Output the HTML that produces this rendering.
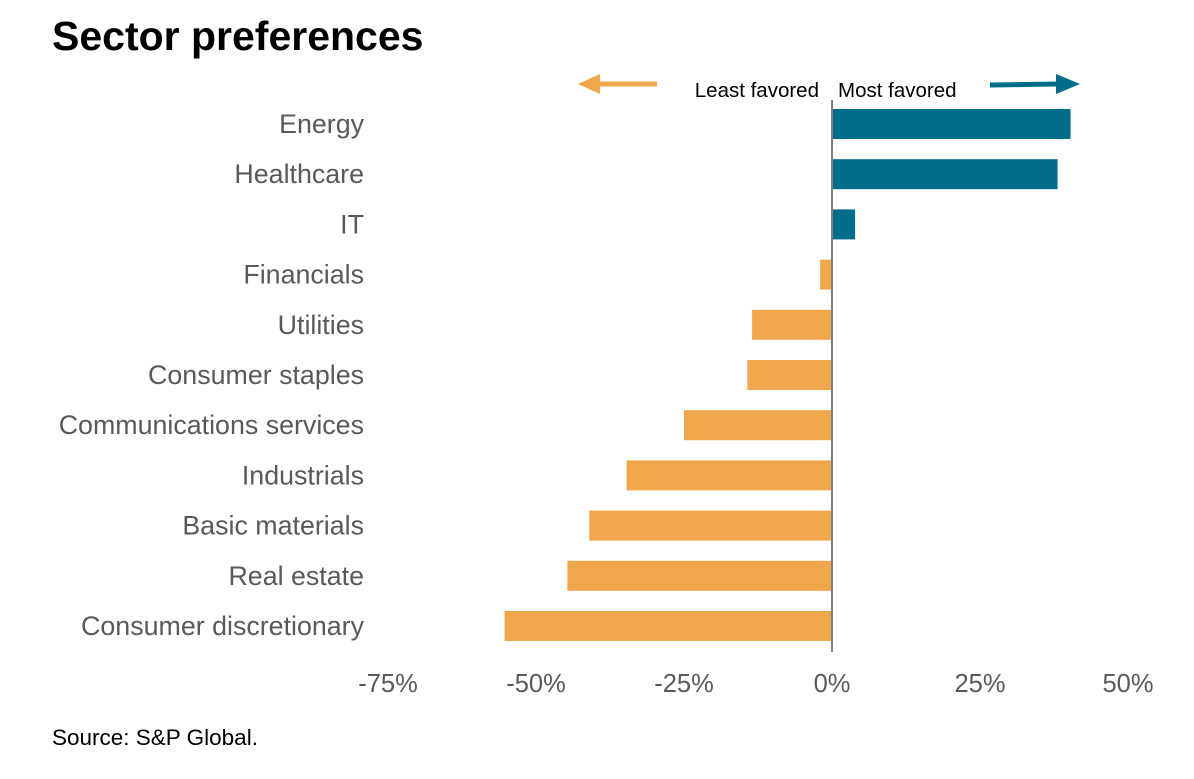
<!DOCTYPE html>
<html><head><meta charset="utf-8"><style>
body{margin:0;background:#fff;}
svg{display:block;font-family:"Liberation Sans",Arial,sans-serif;}
</style></head><body>
<svg id="chart" width="1194" height="779">
<text x="52" y="50" font-size="41" font-weight="bold" fill="#000">Sector preferences</text>
<g>
<line x1="657" y1="84" x2="598" y2="84" stroke="#f0a64b" stroke-width="5"/>
<polygon points="578,84 600,74 600,94" fill="#f0a64b"/>
<text x="819" y="97" font-size="20.5" text-anchor="end" fill="#000">Least favored</text>
<text x="838" y="97" font-size="20.5" fill="#000">Most favored</text>
<line x1="990" y1="85" x2="1058" y2="84" stroke="#006e8a" stroke-width="5"/>
<polygon points="1080,84 1056,74 1056,94" fill="#006e8a"/>
</g>
<g id="bars"></g>
<g id="labels"></g>
<g id="ticks"></g>
<line x1="832" y1="100" x2="832" y2="652" stroke="#808080" stroke-width="2"/>
<text x="52" y="745" font-size="22.5" fill="#000">Source: S&amp;P Global.</text>
</svg>
<script>
const categories=["Energy","Healthcare","IT","Financials","Utilities","Consumer staples","Communications services","Industrials","Basic materials","Real estate","Consumer discretionary"];
const values=[40.3,38.1,3.9,-2,-13.5,-14.3,-25,-34.7,-41,-44.7,-55.3];
const tickValues=[-75,-50,-25,0,25,50];
const tickLabels=["-75%","-50%","-25%","0%","25%","50%"];
const NS="http://www.w3.org/2000/svg";
function xScale(v){return 832+(v)*(1128-832)/50;}
function yScale(i){return 124+i*50.2;}
const bars=document.getElementById('bars'),labels=document.getElementById('labels'),ticks=document.getElementById('ticks');
categories.forEach((c,i)=>{
  const v=values[i];
  const r=document.createElementNS(NS,'rect');
  const x0=xScale(Math.min(0,v)),x1=xScale(Math.max(0,v));
  r.setAttribute('x',x0);r.setAttribute('width',x1-x0);
  r.setAttribute('y',yScale(i)-15);r.setAttribute('height',30);
  r.setAttribute('fill',v>=0?'#006e8a':'#f0a64b');
  
  
  bars.appendChild(r);
  const t=document.createElementNS(NS,'text');
  t.setAttribute('x',364);t.setAttribute('y',yScale(i)+9);
  t.setAttribute('text-anchor','end');t.setAttribute('font-size','26.8');t.setAttribute('fill','#595959');
  t.textContent=c;
  
  
  labels.appendChild(t);
});
tickValues.forEach((v,i)=>{
  const t=document.createElementNS(NS,'text');
  t.setAttribute('x',xScale(v));t.setAttribute('y',692);
  t.setAttribute('text-anchor','middle');t.setAttribute('font-size','25.5');t.setAttribute('fill','#595959');
  t.textContent=tickLabels[i];
  
  
  ticks.appendChild(t);
});
</script>
</body></html>
